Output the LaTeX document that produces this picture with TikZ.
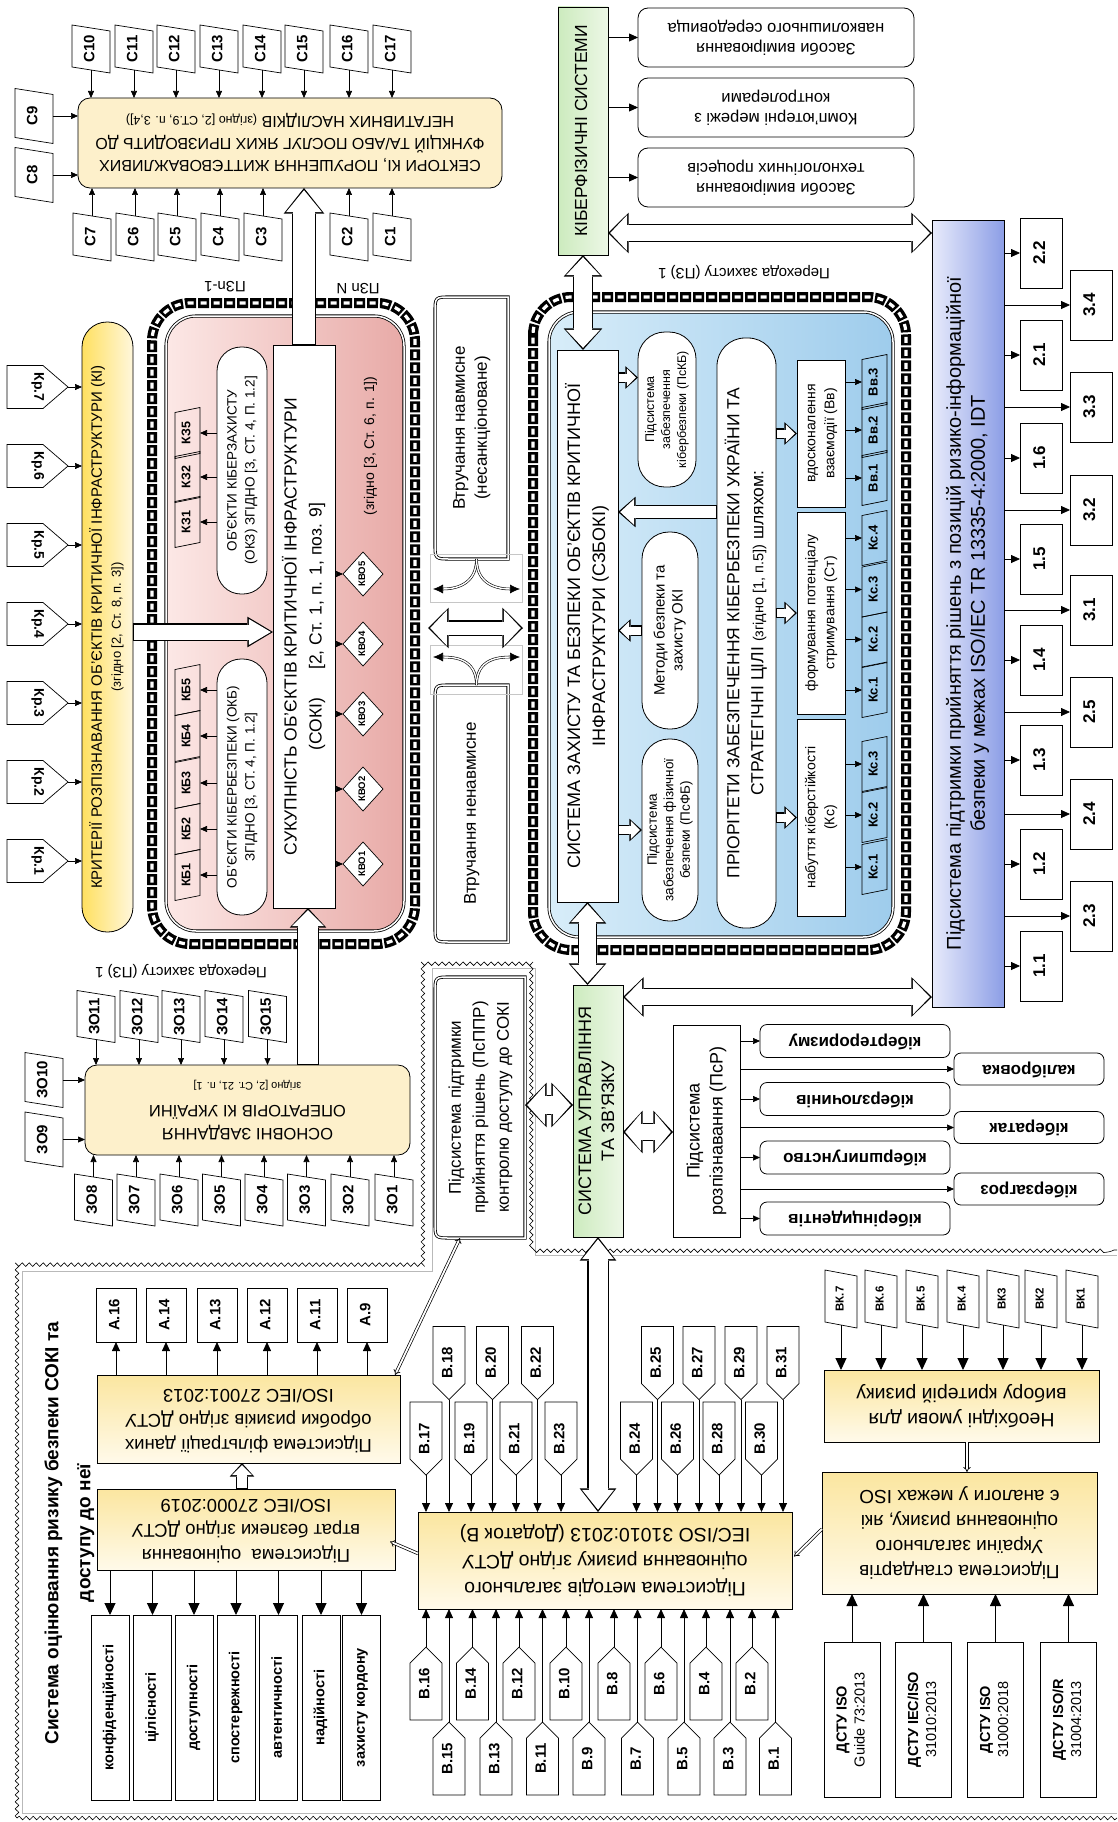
\documentclass[tikz,border=0pt]{standalone}
\usepackage{fontspec}
\setmainfont{Liberation Sans}
\usepackage{graphicx}
\usetikzlibrary{arrows.meta,calc,shapes.geometric,decorations.pathmorphing}
\definecolor{cream}{RGB}{253,240,203}
\definecolor{kritL}{RGB}{255,224,96}
\definecolor{kritR}{RGB}{255,247,220}
\definecolor{pinkL}{RGB}{252,232,230}
\definecolor{pinkR}{RGB}{232,170,167}
\definecolor{blueL}{RGB}{216,237,249}
\definecolor{blueR}{RGB}{158,204,236}
\definecolor{grL}{RGB}{204,235,190}
\definecolor{grR}{RGB}{237,247,230}
\definecolor{bpL}{RGB}{232,235,251}
\definecolor{bpR}{RGB}{140,158,230}
\definecolor{yelT}{RGB}{251,230,160}
\definecolor{yelB}{RGB}{255,250,234}
\newcommand\fz[2]{\fontsize{#1}{#2}\selectfont}
\newcommand\rt[1]{\rotatebox{90}{\begin{tabular}{@{}c@{}}#1\end{tabular}}}
\newcommand\rtm[1]{\rotatebox{-90}{\begin{tabular}{@{}c@{}}#1\end{tabular}}}
\newcommand\ud[1]{\rotatebox{180}{\begin{tabular}{@{}c@{}}#1\end{tabular}}}
\newcommand\hsingle[5]{%
  \pgfmathsetmacro\hOW{#1+2.4}\pgfmathsetmacro\hOH{#2+4.6}\pgfmathsetmacro\hOL{#3+3.6}%
  \draw[line width=\hOW pt,-{Triangle[width=\hOH pt,length=\hOL pt,line width=0pt]}] #4 -- #5;
  \draw[white,line width=#1pt,shorten <=1.2pt,shorten >=2.2pt,-{Triangle[width=#2pt,length=#3pt,line width=0pt]}] #4 -- #5;}
\newcommand\hdouble[5]{%
  \pgfmathsetmacro\hOW{#1+2.4}\pgfmathsetmacro\hOH{#2+4.6}\pgfmathsetmacro\hOL{#3+3.6}%
  \draw[line width=\hOW pt,{Triangle[width=\hOH pt,length=\hOL pt,line width=0pt]}-{Triangle[width=\hOH pt,length=\hOL pt,line width=0pt]}] #4 -- #5;
  \draw[white,line width=#1pt,shorten <=2.2pt,shorten >=2.2pt,{Triangle[width=#2pt,length=#3pt,line width=0pt]}-{Triangle[width=#2pt,length=#3pt,line width=0pt]}] #4 -- #5;}
\newcommand\parR[5]{\node[#5] (#1) at (#2,#3) {\rt{#4}};
  \draw[line width=0.7pt] ($(#1.north west)+(0,-3)$) -- ($(#1.north east)+(0,3)$) -- ($(#1.south east)+(0,3)$) -- ($(#1.south west)+(0,-3)$) -- cycle;}
\newcommand\parL[5]{\node[#5] (#1) at (#2,#3) {\rt{#4}};
  \draw[line width=0.7pt] ($(#1.north west)+(0,2.5)$) -- ($(#1.north east)+(0,-2.5)$) -- ($(#1.south east)+(0,-2.5)$) -- ($(#1.south west)+(0,2.5)$) -- cycle;}
\newcommand\pentD[4]{\node[pent] (#1) at (#2,#3) {\rt{#4}};
  \draw[line width=0.7pt] (#1.north west) -- (#1.north east) -- ($(#1.south east)+(0,-16)$) -- (#1.south) -- ($(#1.south west)+(0,-16)$) -- cycle;}
\newcommand\pentU[4]{\node[pent] (#1) at (#2,#3) {\rt{#4}};
  \draw[line width=0.7pt] (#1.south west) -- (#1.south east) -- ($(#1.north east)+(0,16)$) -- (#1.north) -- ($(#1.north west)+(0,16)$) -- cycle;}
\newcommand\kr[3]{\node[krs] (#1) at (37.5,#2) {\rtm{#3}};
  \draw[line width=0.7pt] (#1.north west) -- ($(#1.north east)+(-25,0)$) -- (#1.east) -- ($(#1.south east)+(-25,0)$) -- (#1.south west) -- cycle;
  \draw[ar] (#1.east) -- (#1.east -| krit.west);}
\newcommand\lround[1]{\draw[dbl] (#1.north east) -- ($(#1.north west)+(16,0)$) .. controls (#1.north west) .. ($(#1.north west)+(0,16)$) -- ($(#1.south west)+(0,-16)$) .. controls (#1.south west) .. ($(#1.south west)+(16,0)$) -- (#1.south east) -- cycle;}
\newcommand\chainrect[4]{%
  \draw[line width=10pt,dash pattern=on 11pt off 2pt,rounded corners=38pt] (#1,#2) rectangle (#3,#4);
  \draw[white,line width=3.2pt,dash pattern=on 6pt off 7pt,dash phase=10.5pt,rounded corners=38pt] (#1,#2) rectangle (#3,#4);}
\begin{document}
\begin{tikzpicture}[x=1pt,y=-1pt,
  every node/.style={inner sep=0pt,outer sep=0pt},
  box/.style={draw,line width=0.8pt,fill=white},
  ar/.style={line width=0.7pt,-{Triangle[length=7pt,width=6pt]}},
  arM/.style={line width=0.8pt,-{Triangle[length=9pt,width=8pt]}},
  arL/.style={line width=1pt,-{Triangle[length=12pt,width=11pt]}},
  dbl/.style={line width=0.8pt,double=white,double distance=1.5pt},
  dbA/.style={line width=0.7pt,double=white,double distance=1.8pt,-{Implies}},
  dbAA/.style={line width=0.7pt,double=white,double distance=1.8pt,{Implies}-{Implies}},
  dcur/.style={line width=0.6pt,double=white,double distance=1.4pt,-{Latex[length=10pt,width=9pt]}},
  pbox/.style={minimum width=38pt,minimum height=42pt,font=\bfseries\fz{15}{17}},
  pboxT/.style={minimum width=38pt,minimum height=49pt,font=\bfseries\fz{15}{17}},
  pbZ/.style={minimum width=38pt,minimum height=46pt,font=\bfseries\fz{15}{17}},
  pbS/.style={minimum width=25pt,minimum height=46pt,font=\bfseries\fz{12.5}{14}},
  pbK/.style={minimum width=25pt,minimum height=50pt,font=\bfseries\fz{13}{15}},
  pbV/.style={minimum width=32pt,minimum height=52pt,font=\bfseries\fz{11.5}{13}},
  pent/.style={minimum width=32pt,minimum height=73pt,font=\bfseries\fz{15}{17}},
  krs/.style={minimum width=61pt,minimum height=43pt,font=\bfseries\fz{14}{16}},
  kbx/.style={box,rounded corners=7pt,font=\bfseries\fz{17}{20}}
]
\useasboundingbox (0,0) rectangle (1117,1822);
\fill[white] (0,0) rectangle (1117,1822);

% ===== frames =====
\draw[gray!55,line width=0.6pt] (22,1813) -- (22,1271) -- (432,1271) -- (432,968) -- (535,968) -- (535,1255) -- (1117,1255);
\draw[gray!55,line width=0.6pt] (22,1813) -- (1117,1813);
\draw[line width=0.6pt,decorate,decoration={snake,segment length=7pt,amplitude=1.8pt}] (17,1818) -- (17,1266) -- (427,1266) -- (427,962) -- (540,962) -- (540,1250) -- (1117,1250);
\draw[line width=0.6pt,decorate,decoration={snake,segment length=7pt,amplitude=1.8pt}] (17,1818) -- (1117,1818);

% ===== chains and big blocks =====
\chainrect{152}{303}{415}{944}
\chainrect{533}{297}{906}{950}
\node[draw,dbl,rounded corners=30pt,left color=pinkL,right color=pinkR,minimum width=238pt,minimum height=615pt] (pink) at (285,623.5) {};
\node[draw,dbl,rounded corners=30pt,left color=blueL,right color=blueR,minimum width=344pt,minimum height=625pt] (blue) at (721,624.5) {};

% ===== top: sectors =====
\node[box,rounded corners=12pt,fill=cream,minimum width=424pt,minimum height=90pt,font=\fz{16}{22}] (sect) at (290,143)
  {\ud{СЕКТОРИ КІ, ПОРУШЕННЯ ЖИТТЄВОВАЖЛИВИХ\\ФУНКЦІЙ ТА/АБО ПОСЛУГ ЯКИХ ПРИЗВОДИТЬ ДО\\НЕГАТИВНИХ НАСЛІДКІВ {\fz{12.5}{14}(згідно [2, СТ.9, п. 3,4])}}};
\foreach \n/\x in {10/91,11/134,12/176,13/219,14/262,15/304,16/349,17/392}{%
  \parR{c\n}{\x}{49}{C\n}{pbox}
  \draw[ar] (c\n.south) -- (c\n.south |- sect.north);}
\foreach \n/\x in {7/92,6/135,5/177,4/220,3/263,2/349,1/392}{%
  \parR{c\n}{\x}{237}{C\n}{pbox}
  \draw[ar] (c\n.north) -- (c\n.north |- sect.south);}
\parR{c9}{34}{116}{C9}{pboxT}
\parR{c8}{34}{175}{C8}{pboxT}
\draw[ar] (c9.east) -- (c9.east -| sect.west);
\draw[ar] (c8.east) -- (c8.east -| sect.west);
\node[font=\fz{15}{17}] (pzn1) at (225,285) {\ud{ПЗn-1}};
\node[font=\fz{15}{17}] (pznN) at (358,287) {\ud{ПЗn N}};

% ===== criteria =====
\node[draw,line width=0.8pt,rounded corners=25pt,minimum width=51pt,minimum height=610pt,left color=kritL,right color=kritR,font=\fz{15}{19}] (krit) at (107.5,627)
  {\rt{КРИТЕРІЇ РОЗПІЗНАВАННЯ ОБ'ЄКТІВ КРИТИЧНОЇ ІНФРАСТРУКТУРИ (КІ)\\{\fz{13}{16}(згідно [2, Ст. 8, п. 3])}}};
\foreach \k/\y in {1/861,2/782,3/703,4/624,5/545,6/466,7/387}{\kr{kr\k}{\y}{Кр.\k}}

% ===== SOKI block =====
\node[box,minimum width=62pt,minimum height=563pt,font=\fz{17.5}{25}] (soki) at (304,626.5)
  {\rt{СУКУПНІСТЬ ОБ'ЄКТІВ КРИТИЧНОЇ ІНФРАСТРУКТУРИ\\(СОКІ)\hspace{28pt}[2, Ст. 1, п. 1, поз. 9]}};
\node[box,rounded corners=24pt,minimum width=50pt,minimum height=247pt,font=\fz{13.5}{18}] (okz) at (242,470.5)
  {\rt{ОБ'ЄКТИ КІБЕРЗАХИСТУ\\(ОКЗ) ЗГІДНО [3, СТ. 4, П. 1.2]}};
\node[box,rounded corners=24pt,minimum width=50pt,minimum height=256pt,font=\fz{13.5}{18}] (okb) at (242,787)
  {\rt{ОБ'ЄКТИ КІБЕРБЕЗПЕКИ (ОКБ)\\ЗГІДНО [3, СТ. 4, П. 1.2]}};
\foreach \i/\y in {1/875,2/829,3/783,4/736,5/690}{%
  \parL{kb\i}{187.5}{\y}{КБ\i}{pbS}
  \draw[ar] (kb\i.east -| okb.west) -- (kb\i.east);}
\foreach \i/\y in {1/522,2/477,5/433}{%
  \parL{kz\i}{187.5}{\y}{КЗ\i}{pbS}
  \draw[ar] (kz\i.east -| okz.west) -- (kz\i.east);}
\foreach \i/\y in {1/864,2/789,3/714,4/644,5/574}{%
  \node[draw,line width=0.7pt,fill=white,diamond,minimum width=40pt,minimum height=44pt,font=\bfseries\fz{9.5}{11}] (kvo\i) at (363,\y) {\rt{КВО\i}};
  \draw[ar] (kvo\i.west -| soki.east) -- (kvo\i.west);}
\node[font=\fz{14}{16}] (zg3) at (371,446) {\rt{(згідно [3, Ст. 6, п. 1])}};

% ===== interventions =====
\node[minimum width=73pt,minimum height=262pt,font=\fz{17}{22}] (navm) at (471.5,428) {\rt{Втручання навмисне\\(несанкціоноване)}};
\lround{navm}
\node[minimum width=73pt,minimum height=257pt,font=\fz{17}{22}] (nenavm) at (471.5,813.5) {\rt{Втручання ненавмисне}};
\lround{nenavm}
\draw[gray!45,line width=0.5pt] (430,554) rectangle (522,602);
\draw[gray!45,line width=0.5pt] (430,645) rectangle (522,694);
\coordinate (vL1) at (433,589); \coordinate (vR1) at (520,589);
\coordinate (vL2) at (433,657); \coordinate (vR2) at (520,657);
\draw[dcur] ($(navm.south)+(5,0)$) .. controls ($(navm.south)+(5,26)$) and (455,589) .. (vL1);
\draw[dcur] ($(navm.south)+(5,0)$) .. controls ($(navm.south)+(5,26)$) and (498,589) .. (vR1);
\draw[dcur] ($(nenavm.north)+(5,0)$) .. controls ($(nenavm.north)+(5,-26)$) and (455,657) .. (vL2);
\draw[dcur] ($(nenavm.north)+(5,0)$) .. controls ($(nenavm.north)+(5,-26)$) and (498,657) .. (vR2);
\coordinate (hl) at (428,628); \coordinate (hr) at (523,628);
\hdouble{13}{36}{17}{(hl)}{(hr)}

% ===== SZBOKI block =====
\node[box,minimum width=61pt,minimum height=552pt,font=\fz{18}{25}] (szb) at (587.5,626)
  {\rt{СИСТЕМА ЗАХИСТУ ТА БЕЗПЕКИ ОБ'ЄКТІВ КРИТИЧНОЇ\\ІНФРАСТРУКТУРИ (СЗБОКІ)}};
\node[box,rounded corners=27pt,minimum width=58pt,minimum height=155pt,font=\fz{12.5}{16}] (pskb) at (667,409.5)
  {\rt{Підсистема\\забезпечення\\кібербезпеки (ПсКБ)}};
\node[box,rounded corners=27pt,minimum width=56pt,minimum height=197pt,font=\fz{15}{18}] (metody) at (670,630.5)
  {\rt{Методи безпеки та\\захисту ОКІ}};
\node[box,rounded corners=27pt,minimum width=56pt,minimum height=182pt,font=\fz{13.5}{16.5}] (psfb) at (670,830)
  {\rt{Підсистема\\забезпечення фізичної\\безпеки (ПсФБ)}};
\node[box,rounded corners=28pt,minimum width=59pt,minimum height=590pt,font=\fz{17.5}{24}] (prior) at (746.5,633)
  {\rt{ПРІОРІТЕТИ ЗАБЕЗПЕЧЕННЯ КІБЕРБЕЗПЕКИ УКРАЇНИ ТА\\СТРАТЕГІЧНІ ЦІЛІ {\fz{14.5}{17}(згідно [1, п.5])} шляхом:}};
\node[box,minimum width=48pt,minimum height=197pt,font=\fz{14}{19}] (kcb) at (821,817.5) {\rt{набуття кіберстійкості\\(Кс)}};
\node[box,minimum width=48pt,minimum height=202pt,font=\fz{14}{19}] (stb) at (821,613) {\rt{формування потенціалу\\стримування (Ст)}};
\node[box,minimum width=48pt,minimum height=147pt,font=\fz{14}{19}] (vvb) at (821,433.5) {\rt{вдосконалення\\взаємодії (Вв)}};
\foreach \i/\y in {1/867,2/815,3/764}{%
  \parL{kc\i}{874.5}{\y}{Кс.\i}{pbK}
  \draw[ar] (kc\i.west -| kcb.east) -- (kc\i.west);}
\foreach \i/\y in {1/690,2/639.5,3/589.5,4/538}{%
  \parL{st\i}{874.5}{\y}{Кс.\i}{pbK}
  \draw[ar] (st\i.west -| stb.east) -- (st\i.west);}
\foreach \i/\y in {1/478,2/430,3/382}{%
  \parL{vv\i}{874.5}{\y}{Вв.\i}{pbK}
  \draw[ar] (vv\i.west -| vvb.east) -- (vv\i.west);}
\hsingle{8}{18}{9}{(kcb.west -| prior.east)}{(kcb.west)}
\hsingle{8}{18}{9}{(stb.west -| prior.east)}{(stb.west)}
\hsingle{8}{18}{9}{(vvb.west -| prior.east)}{(vvb.west)}
\coordinate (a1) at ($(pskb.west)+(0,-32)$);
\hsingle{8}{18}{9}{(a1 -| szb.east)}{(a1)}
\hsingle{8}{18}{9}{(metody.west)}{(metody.west -| szb.east)}
\hsingle{8}{18}{9}{(psfb.west -| szb.east)}{(psfb.west)}
\coordinate (a2) at ($(prior.west)+(0,-121)$);
\hsingle{12}{26}{14}{(a2)}{(a2 -| szb.east)}

% ===== cyber-physical =====
\node[draw,line width=0.8pt,minimum width=50pt,minimum height=248pt,left color=grL,right color=grR,font=\fz{17.5}{20}] (kfs) at (583,131) {\rt{КІБЕРФІЗИЧНІ СИСТЕМИ}};
\node[box,rounded corners=10pt,minimum width=276pt,minimum height=59pt,font=\fz{16.5}{20}] (m1) at (776,37.5) {\ud{Засоби вимірювання\\навколишнього середовища}};
\node[box,rounded corners=10pt,minimum width=276pt,minimum height=59pt,font=\fz{16.5}{20}] (m2) at (776,107.5) {\ud{Комп'ютерні мережі з\\контролерами}};
\node[box,rounded corners=10pt,minimum width=276pt,minimum height=59pt,font=\fz{16.5}{20}] (m3) at (776,177.5) {\ud{Засоби вимірювання\\технологічних процесів}};
\foreach \i in {1,2,3}{\draw[arM] (m\i.west -| kfs.east) -- (m\i.west);}
\node[font=\fz{15}{17}] (pz2) at (744,272) {\ud{Перехода захисту (ПЗ) 1}};

% ===== decision support =====
\node[draw,line width=0.8pt,minimum width=72pt,minimum height=787pt,left color=bpL,right color=bpR,font=\fz{20}{24}] (pidtr) at (968,613.5)
  {\rt{Підсистема підтримки прийняття рішень з позицій ризико-інформаційної\\безпеки у межах ISO/IEC TR 13335-4:2000, IDT}};
\foreach \l/\y [count=\i] in {2.2/253,2.1/355,1.6/458,1.5/559,1.4/660,1.3/760,1.2/864,1.1/966}{%
  \node[box,minimum width=42pt,minimum height=70pt,font=\bfseries\fz{17}{20}] (ni\i) at (1041,\y) {\rt{\l}};
  \draw[arM] (ni\i.west -| pidtr.east) -- (ni\i.west);}
\foreach \l/\y [count=\i] in {3.4/305,3.3/407,3.2/510,3.1/610,2.5/712,2.4/814,2.3/916}{%
  \node[box,minimum width=42pt,minimum height=70pt,font=\bfseries\fz{17}{20}] (no\i) at (1091,\y) {\rt{\l}};
  \draw[arM] (no\i.west -| pidtr.east) -- (no\i.west);}
\coordinate (k1) at ($(kfs.south east)+(0,-22)$);
\hdouble{16}{36}{17}{(k1)}{(k1 -| pidtr.west)}
\hdouble{18}{34}{18}{(kfs.south)}{(kfs.south |- szb.north)}

% ===== control system =====
\node[draw,line width=0.8pt,minimum width=50pt,minimum height=252pt,left color=grL,right color=grR,font=\fz{18}{23}] (upr) at (598,1111) {\rt{СИСТЕМА УПРАВЛІННЯ\\ТА ЗВ'ЯЗКУ}};
\node[box,minimum width=67pt,minimum height=212pt,font=\fz{18}{23}] (psr) at (706.5,1131) {\rt{Підсистема\\розпізнавання (ПсР)}};
\foreach \t/\y [count=\i] in {кібертероризму/1041,кіберзлочинів/1099,кібершпигунство/1157.5,кіберінцидентів/1218.5}{%
  \node[kbx,minimum width=190pt,minimum height=33pt] (ki\i) at (855,\y) {\ud{\t}};
  \draw[ar] (ki\i.west -| psr.east) -- (ki\i.west);}
\foreach \t/\y [count=\i] in {калібровка/1069,кібератак/1127.5,кіберзагроз/1189}{%
  \node[kbx,minimum width=150pt,minimum height=32pt] (ko\i) at (1029,\y) {\ud{\t}};
  \draw[ar] (ko\i.west -| psr.east) -- (ko\i.west);}
\node[minimum width=90pt,minimum height=261pt,font=\fz{17}{24}] (ppr) at (480,1107.5)
  {\rt{Підсистема підтримки\\прийняття рішень (ПсППР)\\контролю доступу до СОКІ}};
\lround{ppr}
\hdouble{17}{33}{18}{(szb.south)}{(szb.south |- upr.north)}
\coordinate (u1) at ($(upr.east)+(0,21)$);
\hdouble{16}{38}{16}{(u1)}{(u1 -| psr.west)}
\coordinate (u2) at ($(upr.west)+(0,-6)$);
\hdouble{18}{40}{18}{(u2 -| ppr.east)}{(u2)}
\coordinate (u3) at ($(upr.north east)+(0,12)$);
\hdouble{16}{35}{17}{(u3)}{(u3 -| pidtr.west)}

% ===== main tasks =====
\node[box,rounded corners=12pt,fill=cream,minimum width=325pt,minimum height=90pt,font=\fz{16.5}{23}] (osn) at (247.5,1110)
  {\ud{ОСНОВНІ ЗАВДАННЯ\\ОПЕРАТОРІВ КІ УКРАЇНИ\\{\fz{11}{13}згідно [2, Ст. 21, п. 1]}}};
\foreach \n/\x in {11/96,12/139,13/181,14/224,15/267.5}{%
  \parR{z\n}{\x}{1016.5}{ЗО\n}{pbZ}
  \draw[ar] (z\n.south) -- (z\n.south |- osn.north);}
\parR{z10}{44}{1080}{ЗО10}{pboxT}
\parR{z9}{44}{1139.5}{ЗО9}{pboxT}
\draw[ar] (z10.east) -- (z10.east -| osn.west);
\draw[ar] (z9.east) -- (z9.east -| osn.west);
\foreach \n/\x in {8/93.5,7/136,6/179,5/221.5,4/264,3/306.5,2/350,1/394}{%
  \parR{z\n}{\x}{1200}{ЗО\n}{pbZ}
  \draw[ar] (z\n.north) -- (z\n.north |- osn.south);}
\node[font=\fz{15}{17}] (pz1) at (181,971) {\ud{Перехода захисту (ПЗ) 1}};

% hollow arrows of SOKI
\hsingle{22}{36}{22}{(soki.north)}{(soki.north |- sect.south)}
\hsingle{20}{32}{16}{($(osn.north)+(60.5,0)$)}{($(soki.south)+(4,0)$)}
\coordinate (kk) at ($(krit.east)+(0,5)$);
\hsingle{15}{26}{22}{(kk)}{(kk -| soki.west)}

% ===== risk assessment (bottom left) =====
\node[font=\bfseries\fz{19}{32}] (title) at (68,1533) {\rt{Система оцінювання ризику безпеки СОКІ та\\доступу до неї}};
\node[draw,line width=0.8pt,minimum width=303pt,minimum height=88pt,top color=yelT,bottom color=yelB,font=\fz{18.5}{25}] (filtr) at (248.5,1419)
  {\ud{Підсистема фільтрації даних\\обробки ризиків згідно ДСТУ\\ISO/IEC 27001:2013}};
\node[draw,line width=0.8pt,minimum width=298pt,minimum height=81pt,top color=yelT,bottom color=yelB,font=\fz{18.5}{25}] (vtrat) at (246,1529.5)
  {\ud{Підсистема\ \ оцінювання\\втрат безпеки згідно ДСТУ\\ISO/IEC 27000:2019}};
\foreach \l/\x in {16/116,14/166,13/217,12/267,11/317,9/367}{%
  \node[box,minimum width=40pt,minimum height=54pt,font=\bfseries\fz{15}{17}] (a\l) at (\x,1315) {\rt{А.\l}};
  \draw[arM] (a\l.south |- filtr.north) -- (a\l.south);}
\coordinate (vt) at ($(vtrat.north)+(-4,0)$);
\hsingle{10}{20}{10}{(vt)}{(vt |- filtr.south)}
\foreach \t/\x [count=\i] in {конфіденційності/110,цілісності/152.5,доступності/194,спостережності/236,автентичності/278.5,надійності/321,захисту кордону/361.5}{%
  \node[box,minimum width=38pt,minimum height=185pt,font=\bfseries\fz{14.5}{17}] (q\i) at (\x,1707.5) {\rt{\t}};
  \draw[arL] (q\i.north |- vtrat.south) -- (q\i.north);}

% ===== methods =====
\node[draw,line width=0.8pt,minimum width=374pt,minimum height=97pt,top color=yelT,bottom color=yelB,font=\fz{19.5}{27}] (meth) at (605,1560.5)
  {\ud{Підсистема методів загального\\оцінювання ризику згідно ДСТУ\\IEC/ISO 31010:2013 (Додаток В)}};
\foreach \n/\x in {17/426,19/471,21/516,23/561,24/636.5,26/677.5,28/719,30/761.5}{%
  \pentD{b\n}{\x}{1438.5}{В.\n}
  \draw[arM] (b\n.south) -- (b\n.south |- meth.north);}
\foreach \n/\x in {18/449,20/492.5,22/537.5,25/657.5,27/699,29/741,31/783}{%
  \pentD{b\n}{\x}{1363}{В.\n}
  \draw[arM] (b\n.south) -- (b\n.south |- meth.north);}
\foreach \n/\x in {16/426,14/472.5,12/519,10/566,8/614,6/661,4/706,2/752}{%
  \pentU{b\n}{\x}{1683.5}{В.\n}
  \draw[arM] (b\n.north) -- (b\n.north |- meth.south);}
\foreach \n/\x in {15/449,13/496,11/542.5,9/589,7/637.5,5/684,3/730,1/775.5}{%
  \pentU{b\n}{\x}{1758.5}{В.\n}
  \draw[arM] (b\n.north) -- (b\n.north |- meth.south);}
\hdouble{19}{32}{20}{(upr.south)}{(upr.south |- meth.north)}
\draw[dbA] ($(meth.west)+(0,-7)$) -- ($(vtrat.east)+(-5,12)$);
\draw[dbAA] ($(ppr.south west)+(25,0)$) -- ($(filtr.north east)+(-5,0)$);

% ===== standards (bottom right) =====
\node[draw,line width=0.8pt,minimum width=275pt,minimum height=72pt,top color=yelT,bottom color=yelB,font=\fz{19.5}{25}] (neob) at (961.5,1406)
  {\ud{Необхідні умови для\\вибору критерій ризику}};
\node[draw,line width=0.8pt,minimum width=275pt,minimum height=122pt,top color=yelT,bottom color=yelB,font=\fz{19}{25}] (stand) at (959.5,1533)
  {\ud{Підсистема стандартів\\України загального\\оцінювання ризику, які\\є аналоги у межах ISO}};
\foreach \l/\x [count=\i] in {ВК.7/841,ВК.6/881,ВК.5/922,ВК.4/963,ВК3/1003,ВК2/1041,ВК1/1082}{%
  \parR{vk\i}{\x}{1299}{\l}{pbV}
  \draw[arL] (vk\i.south) -- (vk\i.south |- neob.north);}
\coordinate (nb) at ($(neob.south)+(5.5,0)$);
\draw[dbA] (nb) -- (nb |- stand.north);
\draw[dbA] ($(stand.west)+(0,-4)$) -- ($(meth.east)+(2,-4)$);
\foreach \a/\b/\x [count=\i] in {ДСТУ ISO/Guide 73:2013/852,ДСТУ IEC/ISO/31010:2013/923.5,ДСТУ ISO/31000:2018/995.5,ДСТУ ISO/R/31004:2013/1068.5}{}
\node[box,minimum width=56pt,minimum height=155pt,font=\fz{14.5}{18}] (s1) at (852,1719.5) {\rt{\textbf{ДСТУ ISO}\\Guide 73:2013}};
\node[box,minimum width=56pt,minimum height=155pt,font=\fz{14.5}{18}] (s2) at (923.5,1719.5) {\rt{\textbf{ДСТУ IEC/ISO}\\31010:2013}};
\node[box,minimum width=56pt,minimum height=155pt,font=\fz{14.5}{18}] (s3) at (995.5,1719.5) {\rt{\textbf{ДСТУ ISO}\\31000:2018}};
\node[box,minimum width=56pt,minimum height=155pt,font=\fz{14.5}{18}] (s4) at (1068.5,1719.5) {\rt{\textbf{ДСТУ ISO/R}\\31004:2013}};
\foreach \i in {1,2,3,4}{\draw[arL] (s\i.north) -- (s\i.north |- stand.south);}
\end{tikzpicture}
\end{document}
